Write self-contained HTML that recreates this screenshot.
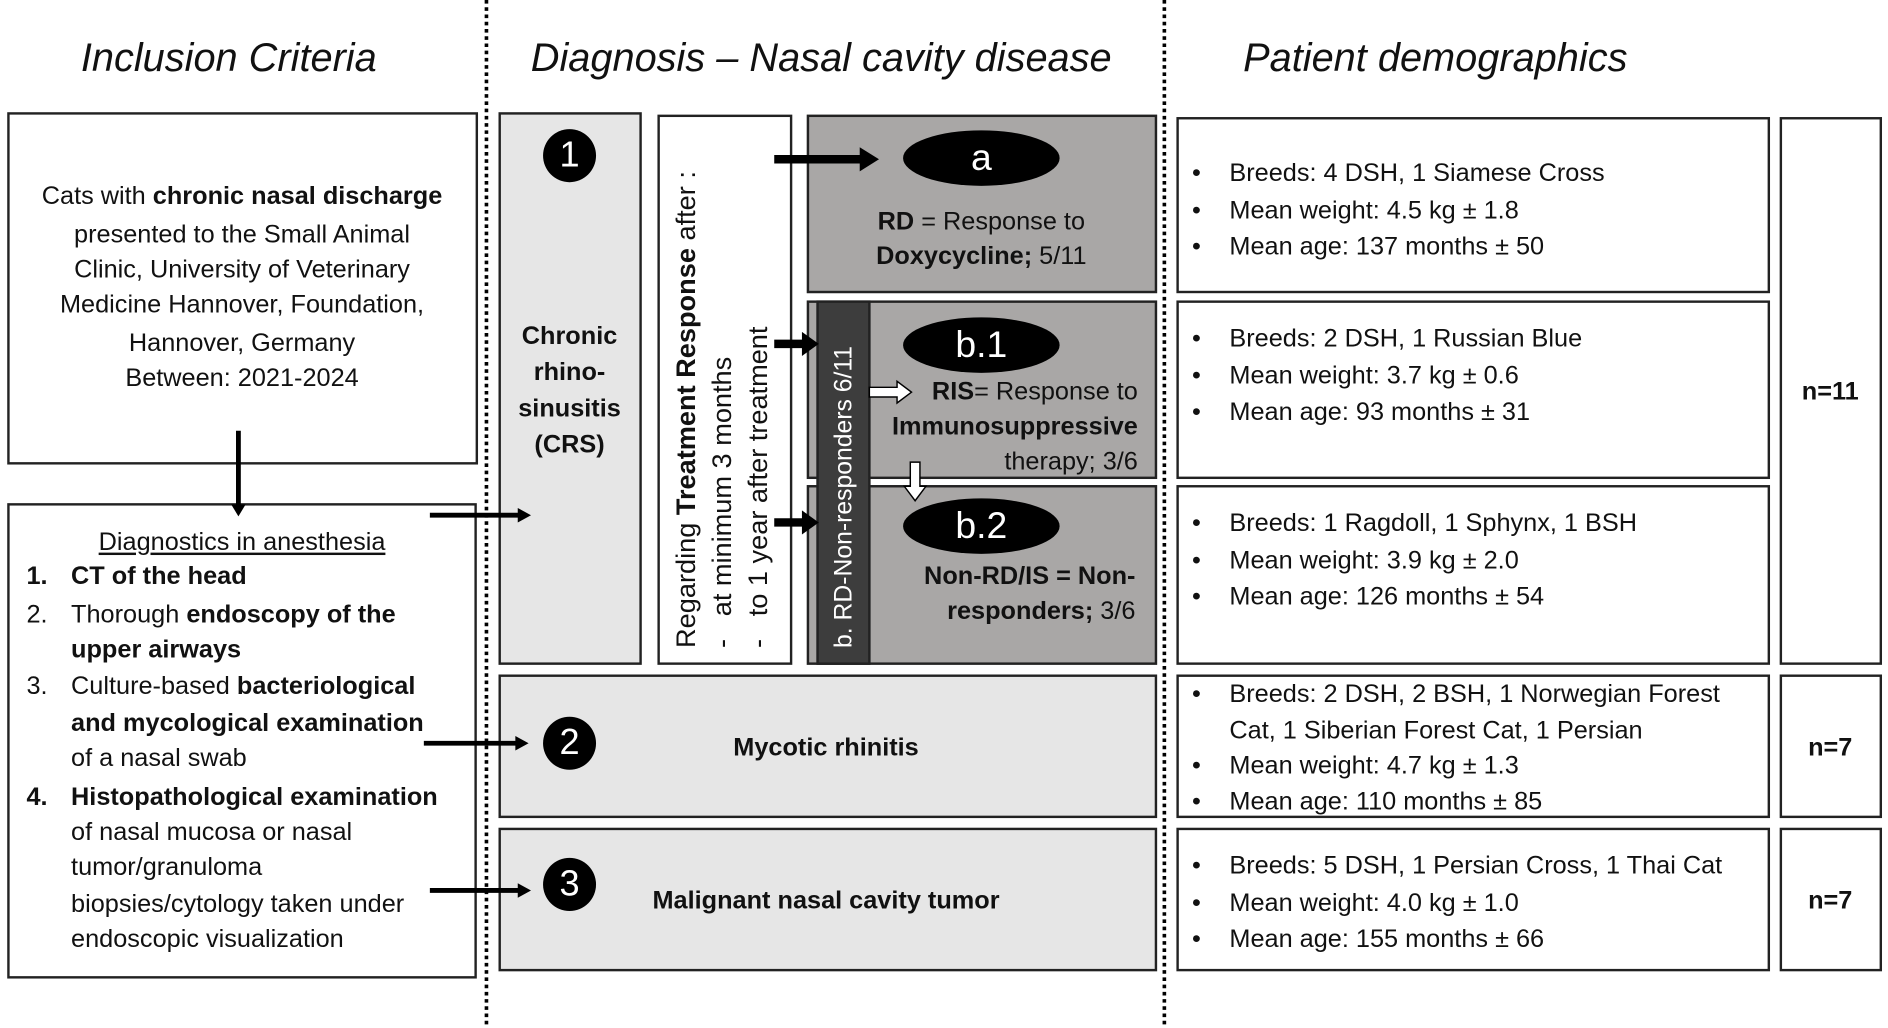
<!DOCTYPE html>
<html><head><meta charset="utf-8"><style>
html,body{margin:0;padding:0;background:#fff;}
body{width:1888px;height:1028px;overflow:hidden;position:relative;}
#w{position:absolute;left:0;top:0;width:1568px;height:852px;transform:scale(1.2041,1.2066);transform-origin:0 0;font-family:"Liberation Sans",sans-serif;color:#111;}
.b{position:absolute;box-sizing:border-box;border:2px solid #222;}
.t{position:absolute;white-space:nowrap;font-size:21px;line-height:24px;}
.c{transform:translateX(-50%);text-align:center;}
.r{transform:translateX(-100%);text-align:right;}
.h{position:absolute;font-style:italic;font-size:33px;white-space:nowrap;transform:translateX(-50%);top:29px;}
.ci{position:absolute;width:44px;height:44px;border-radius:50%;background:#000;color:#fff;font-size:30px;line-height:44px;text-align:center;}
.el{position:absolute;width:130px;height:46px;border-radius:50%;background:#000;color:#fff;font-size:31px;line-height:46px;text-align:center;}
b{font-weight:bold;}
</style></head><body><div id="w">
<div class="h" style="left:190px">Inclusion Criteria</div>
<div class="h" style="left:682px">Diagnosis – Nasal cavity disease</div>
<div class="h" style="left:1192px">Patient demographics</div>

<div class="b" style="left:6px;top:93px;width:391px;height:292px"></div>
<div class="t c" style="left:201px;top:151px">Cats with <b>chronic nasal discharge</b></div>
<div class="t c" style="left:201px;top:183px">presented to the Small Animal</div>
<div class="t c" style="left:201px;top:212px">Clinic, University of Veterinary</div>
<div class="t c" style="left:201px;top:241px">Medicine Hannover, Foundation,</div>
<div class="t c" style="left:201px;top:273px">Hannover, Germany</div>
<div class="t c" style="left:201px;top:302px">Between: 2021-2024</div>

<div class="b" style="left:6px;top:417px;width:390px;height:394px"></div>
<div class="t c" style="left:201px;top:438px;text-decoration:underline">Diagnostics in anesthesia</div>
<div class="t" style="left:22px;top:466px"><b>1.</b></div><div class="t" style="left:59px;top:466px"><b>CT of the head</b></div>
<div class="t" style="left:22px;top:498px">2.</div><div class="t" style="left:59px;top:498px">Thorough <b>endoscopy of the</b></div>
<div class="t" style="left:59px;top:527px"><b>upper airways</b></div>
<div class="t" style="left:22px;top:557px">3.</div><div class="t" style="left:59px;top:557px">Culture-based <b>bacteriological</b></div>
<div class="t" style="left:59px;top:588px"><b>and mycological examination</b></div>
<div class="t" style="left:59px;top:617px">of a nasal swab</div>
<div class="t" style="left:22px;top:649px"><b>4.</b></div><div class="t" style="left:59px;top:649px"><b>Histopathological examination</b></div>
<div class="t" style="left:59px;top:678px">of nasal mucosa or nasal</div>
<div class="t" style="left:59px;top:707px">tumor/granuloma</div>
<div class="t" style="left:59px;top:738px">biopsies/cytology taken under</div>
<div class="t" style="left:59px;top:767px">endoscopic visualization</div>

<div class="b" style="left:414px;top:93px;width:119px;height:458px;background:#e6e6e6"></div>
<div class="ci" style="left:451px;top:107px">1</div>
<div class="t c" style="left:473px;top:264px;line-height:30px"><b>Chronic<br>rhino-<br>sinusitis<br>(CRS)</b></div>

<div class="b" style="left:546px;top:95px;width:112px;height:456px"></div>
<div class="t" style="left:555px;top:537px;width:420px;height:90px;transform:rotate(-90deg);transform-origin:0 0;line-height:30px;font-size:22.5px">Regarding <b>Treatment Response</b> after :<br>-&nbsp;&nbsp;&nbsp;at minimum 3 months<br>-&nbsp;&nbsp;&nbsp;to 1 year after treatment</div>

<div class="b" style="left:670px;top:95px;width:291px;height:148px;background:#a9a7a6"></div>
<div class="b" style="left:670px;top:249px;width:291px;height:148px;background:#a9a7a6"></div>
<div class="b" style="left:670px;top:402px;width:291px;height:149px;background:#a9a7a6"></div>
<div class="b" style="left:678px;top:249px;width:45px;height:302px;background:#3d3d3d"></div>
<div class="t" style="left:688px;top:537px;width:300px;height:30px;transform:rotate(-90deg);transform-origin:0 0;color:#fff;font-size:20.5px;line-height:26px">b. RD-Non-responders 6/11</div>
<div class="el" style="left:750px;top:108px">a</div>
<div class="el" style="left:750px;top:263px">b.1</div>
<div class="el" style="left:750px;top:413px">b.2</div>
<div class="t c" style="left:815px;top:172px"><b>RD</b> = Response to</div>
<div class="t c" style="left:815px;top:201px"><b>Doxycycline;</b> 5/11</div>
<div class="t r" style="left:945px;top:313px"><b>RIS</b>= Response to</div>
<div class="t r" style="left:945px;top:342px"><b>Immunosuppressive</b></div>
<div class="t r" style="left:945px;top:371px">therapy; 3/6</div>
<div class="t r" style="left:943px;top:466px"><b>Non-RD/IS = Non-</b></div>
<div class="t r" style="left:943px;top:495px"><b>responders;</b> 3/6</div>

<div class="b" style="left:414px;top:559px;width:547px;height:119px;background:#e6e6e6"></div>
<div class="ci" style="left:451px;top:594px">2</div>
<div class="t c" style="left:686px;top:608px"><b>Mycotic rhinitis</b></div>
<div class="b" style="left:414px;top:686px;width:547px;height:119px;background:#e6e6e6"></div>
<div class="ci" style="left:451px;top:711px">3</div>
<div class="t c" style="left:686px;top:735px"><b>Malignant nasal cavity tumor</b></div>

<div class="b" style="left:977px;top:97px;width:493px;height:146px"></div>
<div class="b" style="left:977px;top:249px;width:493px;height:148px"></div>
<div class="b" style="left:977px;top:402px;width:493px;height:149px"></div>
<div class="b" style="left:977px;top:559px;width:493px;height:119px"></div>
<div class="b" style="left:977px;top:686px;width:493px;height:119px"></div>
<div class="b" style="left:1478px;top:97px;width:85px;height:454px"></div>
<div class="b" style="left:1478px;top:559px;width:85px;height:119px"></div>
<div class="b" style="left:1478px;top:686px;width:85px;height:119px"></div>
<div class="t c" style="left:1520px;top:313px"><b>n=11</b></div>
<div class="t c" style="left:1520px;top:608px"><b>n=7</b></div>
<div class="t c" style="left:1520px;top:735px"><b>n=7</b></div>

<div class="t" style="left:990px;top:129px;line-height:30.5px">•<br>•<br>•</div>
<div class="t" style="left:1021px;top:129px;line-height:30.5px">Breeds: 4 DSH, 1 Siamese Cross<br>Mean weight: 4.5 kg ± 1.8<br>Mean age: 137 months ± 50</div>
<div class="t" style="left:990px;top:266px;line-height:30.5px">•<br>•<br>•</div>
<div class="t" style="left:1021px;top:266px;line-height:30.5px">Breeds: 2 DSH, 1 Russian Blue<br>Mean weight: 3.7 kg ± 0.6<br>Mean age: 93 months ± 31</div>
<div class="t" style="left:990px;top:419px;line-height:30.5px">•<br>•<br>•</div>
<div class="t" style="left:1021px;top:419px;line-height:30.5px">Breeds: 1 Ragdoll, 1 Sphynx, 1 BSH<br>Mean weight: 3.9 kg ± 2.0<br>Mean age: 126 months ± 54</div>
<div class="t" style="left:990px;top:561px;line-height:29.5px">•<br><br>•<br>•</div>
<div class="t" style="left:1021px;top:561px;line-height:29.5px">Breeds: 2 DSH, 2 BSH, 1 Norwegian Forest<br>Cat, 1 Siberian Forest Cat, 1 Persian<br>Mean weight: 4.7 kg ± 1.3<br>Mean age: 110 months ± 85</div>
<div class="t" style="left:990px;top:703px;line-height:30.5px">•<br>•<br>•</div>
<div class="t" style="left:1021px;top:703px;line-height:30.5px">Breeds: 5 DSH, 1 Persian Cross, 1 Thai Cat<br>Mean weight: 4.0 kg ± 1.0<br>Mean age: 155 months ± 66</div>

<svg width="1568" height="852" style="position:absolute;left:0;top:0">
<line x1="404" y1="0" x2="404" y2="852" stroke="#000" stroke-width="3" stroke-dasharray="3,3"/>
<line x1="967" y1="0" x2="967" y2="852" stroke="#000" stroke-width="3" stroke-dasharray="3,3"/>
<g stroke="#000" stroke-width="4" fill="#000">
<line x1="198" y1="357" x2="198" y2="420"/><polygon points="192,418 204,418 198,428" stroke="none"/>
<line x1="357" y1="427" x2="432" y2="427"/><polygon points="430,421 430,433 441,427" stroke="none"/>
<line x1="352" y1="616" x2="430" y2="616"/><polygon points="428,610 428,622 439,616" stroke="none"/>
<line x1="357" y1="738" x2="432" y2="738"/><polygon points="430,732 430,744 441,738" stroke="none"/>
<line x1="643" y1="132" x2="716" y2="132" stroke-width="7"/><polygon points="714,122 714,142 730,132" stroke="none"/>
<line x1="643" y1="285" x2="668" y2="285" stroke-width="7"/><polygon points="666,275 666,295 680,285" stroke="none"/>
<line x1="643" y1="433" x2="668" y2="433" stroke-width="7"/><polygon points="666,423 666,443 680,433" stroke="none"/>
</g>
<polygon points="722,321 745,321 745,316 757,325 745,334 745,329 722,329" fill="#fff" stroke="#000" stroke-width="1.2"/>
<polygon points="756,383 764,383 764,403 769,403 760,415 751,403 756,403" fill="#fff" stroke="#000" stroke-width="1.2"/>
</svg>
</div></body></html>
